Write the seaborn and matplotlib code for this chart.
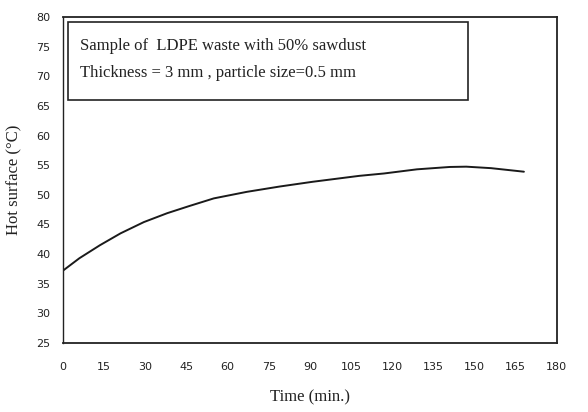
import matplotlib
matplotlib.use("Agg")
import matplotlib.pyplot as plt
import seaborn as sns
import pandas as pd
from matplotlib.patches import Rectangle

time_min = [0, 6, 13.5, 21, 29.5, 38, 46, 55, 67, 79, 91, 108, 117, 129, 141, 147, 156, 168]
hot_surface = [37.2, 39.3, 41.5, 43.5, 45.4, 46.9, 48.1, 49.4, 50.5, 51.4, 52.2, 53.2, 53.6,
               54.3, 54.7, 54.75, 54.5, 53.9]
x_ticks = [0, 15, 30, 45, 60, 75, 90, 105, 120, 135, 150, 165, 180]
x_tick_labels = ["0", "15", "30", "45", "60", "75", "90", "105", "120", "135", "150", "165", "180"]
y_ticks = [25, 30, 35, 40, 45, 50, 55, 60, 65, 70, 75, 80]
legend_lines = ["Sample of  LDPE waste with 50% sawdust",
                "Thickness = 3 mm , particle size=0.5 mm"]

df = pd.DataFrame({"Time": time_min, "Hot": hot_surface})

sns.set_style("white")
plt.rcParams["font.family"] = ["Liberation Serif", "DejaVu Serif"]

fig = plt.figure(figsize=(5.88, 4.12), dpi=100)
ax = fig.add_axes([0.107, 0.1675, 0.840, 0.7912])
sns.lineplot(data=df, x="Time", y="Hot", ax=ax, color="#1a1a1a", linewidth=1.4)

ax.set_xlim(0, 180)
ax.set_ylim(25, 80)
ax.set_xticks(x_ticks)
ax.set_xticklabels(x_tick_labels)
ax.set_yticks(y_ticks)
tick_family = ["Liberation Sans Narrow", "DejaVu Sans"]
for lab in ax.get_xticklabels() + ax.get_yticklabels():
    lab.set_fontfamily(tick_family)
    lab.set_fontsize(8)
    lab.set_color("#222222")
ax.tick_params(axis="both", length=0)
ax.tick_params(axis="x", pad=14)
ax.tick_params(axis="y", pad=9)

for s in ax.spines.values():
    s.set_visible(True)
    s.set_color("#222222")
    s.set_linewidth(1.3)
ax.spines["left"].set_linewidth(1.0)

ax.set_xlabel("Time (min.)", fontsize=12, labelpad=12, color="#222222")
ax.set_ylabel("Hot surface (\u00b0C)", fontsize=12, labelpad=10, color="#222222")

ax.add_patch(Rectangle((0.010, 0.745), 0.810, 0.240, transform=ax.transAxes,
                       fill=False, edgecolor="#222222", linewidth=1.2))
ax.text(0.035, 0.912, legend_lines[0], transform=ax.transAxes, fontsize=12,
        va="center", ha="left", color="#222222")
ax.text(0.035, 0.827, legend_lines[1], transform=ax.transAxes, fontsize=12,
        va="center", ha="left", color="#222222")

fig.savefig("out.png", dpi=100, facecolor="white")
